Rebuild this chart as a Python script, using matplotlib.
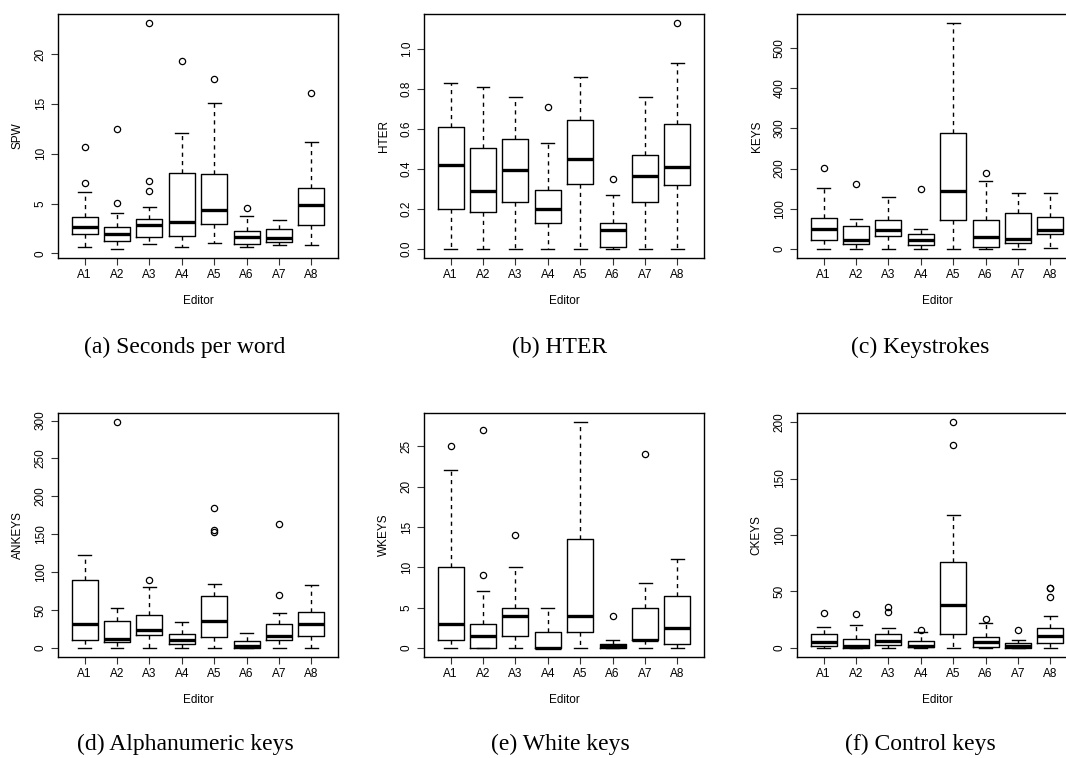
import matplotlib
matplotlib.use("Agg")
import matplotlib.pyplot as plt

editors = ["A1", "A2", "A3", "A4", "A5", "A6", "A7", "A8"]

# (a) seconds per word
spw_lo = [0.65, 0.45, 0.95, 0.65, 1.0, 0.6, 0.85, 0.8]
spw_q1 = [1.95, 1.25, 1.65, 1.7, 3.0, 0.9, 1.15, 2.85]
spw_med = [2.7, 1.9, 2.85, 3.2, 4.35, 1.65, 1.55, 4.85]
spw_q3 = [3.7, 2.7, 3.45, 8.05, 8.0, 2.25, 2.5, 6.6]
spw_hi = [6.2, 4.1, 4.7, 12.05, 15.1, 3.8, 3.4, 11.2]
spw_out = [[7.1, 10.7], [5.05, 12.45], [6.3, 7.25, 23.1], [19.25], [17.5], [4.6], [], [16.1]]

# (b) HTER
hter_lo = [0, 0, 0, 0, 0, 0, 0, 0]
hter_q1 = [0.2, 0.185, 0.235, 0.13, 0.325, 0.01, 0.235, 0.32]
hter_med = [0.42, 0.29, 0.395, 0.2, 0.45, 0.095, 0.365, 0.41]
hter_q3 = [0.61, 0.505, 0.55, 0.295, 0.645, 0.13, 0.47, 0.625]
hter_hi = [0.83, 0.81, 0.76, 0.53, 0.86, 0.27, 0.76, 0.93]
hter_out = [[], [], [], [0.71], [], [0.35], [], [1.13]]

# (c) keystrokes
keys_lo = [0, 0, 0, 0, 0, 0, 0, 2]
keys_q1 = [22, 12, 32, 10, 73, 4, 15, 36]
keys_med = [50, 22, 46, 23, 143, 31, 26, 47]
keys_q3 = [77, 56, 73, 38, 288, 72, 90, 80]
keys_hi = [151, 74, 130, 49, 562, 170, 140, 139]
keys_out = [[201], [161], [], [148], [], [189], [], []]

# (d) alphanumeric keys
ank_lo = [0, 0, 0, 0, 0, 0, 0, 0]
ank_q1 = [10, 8, 17, 5, 14, 0, 11, 16]
ank_med = [32, 12, 24, 10, 36, 3, 16, 31]
ank_q3 = [90, 35, 43, 18, 68, 9, 32, 47]
ank_hi = [122, 53, 80, 34, 85, 20, 46, 83]
ank_out = [[], [298], [90], [], [153, 156, 184], [], [70, 163], []]

# (e) white keys
wk_lo = [0, 0, 0, 0, 0, 0, 0, 0]
wk_q1 = [1, 0, 1.5, 0, 2, 0, 1, 0.5]
wk_med = [3, 1.5, 4, 0, 4, 0.2, 1, 2.5]
wk_q3 = [10, 3, 5, 2, 13.5, 0.5, 5, 6.5]
wk_hi = [22, 7, 10, 5, 28, 1, 8, 11]
wk_out = [[25], [9, 27], [14], [], [], [4], [24], []]

# (f) control keys
ck_lo = [0, 0, 0, 0, 0, 0, 0, 0]
ck_q1 = [1.5, 0, 3, 0.5, 12.5, 1, 0, 4.5]
ck_med = [5, 2, 6, 2, 38, 5, 2, 10.5]
ck_q3 = [12, 8, 12.5, 6.5, 76, 9.5, 4.5, 18]
ck_hi = [19, 20, 18, 14, 118, 22, 7, 28]
ck_out = [[31], [30], [32, 36], [16], [180, 200], [26], [16], [45, 53, 53.5]]

panels = [
    ("SPW", "(a) Seconds per word", spw_lo, spw_q1, spw_med, spw_q3, spw_hi, spw_out,
     [0, 5, 10, 15, 20], "{:.0f}"),
    ("HTER", "(b) HTER", hter_lo, hter_q1, hter_med, hter_q3, hter_hi, hter_out,
     [0, 0.2, 0.4, 0.6, 0.8, 1.0], "{:.1f}"),
    ("KEYS", "(c) Keystrokes", keys_lo, keys_q1, keys_med, keys_q3, keys_hi, keys_out,
     [0, 100, 200, 300, 400, 500], "{:.0f}"),
    ("ANKEYS", "(d) Alphanumeric keys", ank_lo, ank_q1, ank_med, ank_q3, ank_hi, ank_out,
     [0, 50, 100, 150, 200, 250, 300], "{:.0f}"),
    ("WKEYS", "(e) White keys", wk_lo, wk_q1, wk_med, wk_q3, wk_hi, wk_out,
     [0, 5, 10, 15, 20, 25], "{:.0f}"),
    ("CKEYS", "(f) Control keys", ck_lo, ck_q1, ck_med, ck_q3, ck_hi, ck_out,
     [0, 50, 100, 150, 200], "{:.0f}"),
]

W, H = 1066, 758
fig = plt.figure(figsize=(W / 100, H / 100), dpi=100)

sans = "Liberation Sans"
serif = "Liberation Serif"

# axes boxes in pixels: left, top, width, height
lefts = [58, 424, 797]
tops = [14, 413]
aw, ah = 280, 244
cap_x = [185, 560, 920]
cap_y = [347, 744]

for i, (ylab, cap, lo, q1, med, q3, hi, out, yt, fmt) in enumerate(panels):
    r, c = divmod(i, 3)
    ax = fig.add_axes([lefts[c] / W, 1 - (tops[r] + ah) / H, aw / W, ah / H])
    stats = []
    for k in range(len(editors)):
        stats.append(dict(whislo=lo[k], q1=q1[k], med=med[k], q3=q3[k], whishi=hi[k], fliers=out[k]))
    ax.bxp(stats, positions=range(1, 9), widths=0.8, showcaps=True, patch_artist=False,
           boxprops=dict(color="black", lw=1.0),
           whiskerprops=dict(color="black", lw=1.0, linestyle=(0, (3, 3))),
           capprops=dict(color="black", lw=1.0),
           medianprops=dict(color="black", lw=2.4, solid_capstyle="butt"),
           flierprops=dict(marker="o", markersize=4.5, markerfacecolor="none",
                           markeredgecolor="black", markeredgewidth=0.9),
           capwidths=0.4)
    allv = lo + hi + [v for o in out for v in o]
    vmin, vmax = min(allv), max(allv)
    pad = (vmax - vmin) * 0.04
    ax.set_ylim(vmin - pad, vmax + pad)
    ax.set_xlim(0.5 - 0.32, 8.5 + 0.32)
    ax.set_xticks(range(1, 9))
    ax.set_xticklabels(editors, fontfamily=sans, fontsize=8.5)
    ax.set_yticks(yt)
    ax.set_yticklabels([fmt.format(v) for v in yt], rotation=90, va="center",
                       fontfamily=sans, fontsize=8.5)
    ax.tick_params(direction="out", length=5, width=0.8, color="#333333", pad=3)
    for s in ax.spines.values():
        s.set_linewidth(1.0)
    ax.set_ylabel(ylab, fontfamily=sans, fontsize=8.5, labelpad=8)
    ax.set_xlabel("Editor", fontfamily=sans, fontsize=8.5, labelpad=10)
    fig.text(cap_x[c] / W, 1 - cap_y[r] / H, cap, ha="center", va="center",
             fontfamily=serif, fontsize=17)

fig.savefig("out.png", dpi=100)
